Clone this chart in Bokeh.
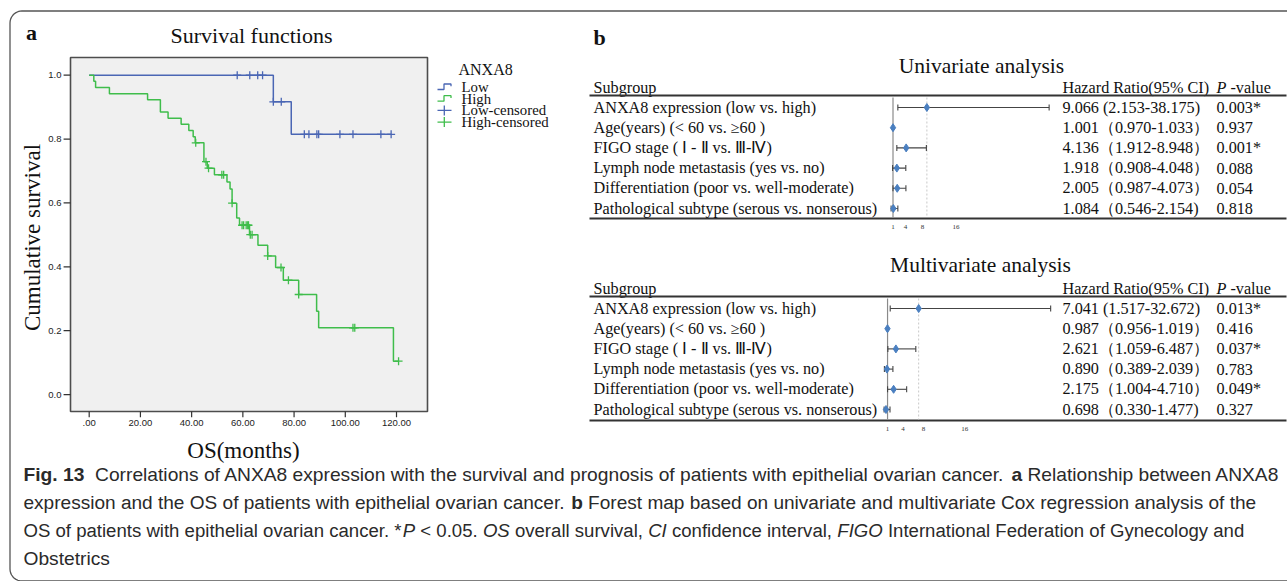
import numpy as np
from bokeh.plotting import figure
from bokeh.models import Range1d
from bokeh.core.properties import value
from bokeh.embed import file_html
from bokeh.resources import INLINE

# ---------------- data ----------------
# Kaplan-Meier raw data (months): deaths and censored observations per group
low_event_months = [71.9, 78.9]
low_censor_months = [57.8, 62.7, 65.8, 67.7, 71.9, 75.0, 84.0, 85.8, 88.9, 89.6,
                     97.9, 103.0, 113.9, 117.9]
high_event_months = [1.8, 2.5, 7.9, 22.8, 27.8, 27.8, 30.8, 35.9, 38.9, 40.6, 41.4,
                     44.8, 44.8, 44.8, 46.1, 48.9, 53.8, 55.0, 55.8, 55.8, 57.6, 57.6,
                     58.7, 62.6, 65.9, 69.7, 72.8, 75.8, 81.8, 88.8, 89.6, 118.8]
high_censor_months = [41.6, 45.6, 46.6, 51.8, 52.5, 55.8, 59.7, 60.3, 61.3, 61.9, 62.2,
                      62.9, 63.6, 69.7, 74.9, 77.8, 81.8, 103.0, 103.7, 120.8]
km_x_ticks = [0, 20, 40, 60, 80, 100, 120]
km_x_tick_labels = [".00", "20.00", "40.00", "60.00", "80.00", "100.00", "120.00"]
km_y_ticks = [0.0, 0.2, 0.4, 0.6, 0.8, 1.0]
km_y_tick_labels = ["0.0", "0.2", "0.4", "0.6", "0.8", "1.0"]
legend_title = "ANXA8"
legend_labels = ["Low", "High", "Low-censored", "High-censored"]

subgroups = ["ANXA8 expression (low vs. high)",
             "Age(years) (< 60 vs. \u226560 )",
             "FIGO stage ( \u2160 - \u2161  vs. \u2162-\u2163)",
             "Lymph node metastasis (yes vs. no)",
             "Differentiation (poor vs. well-moderate)",
             "Pathological subtype (serous vs. nonserous)"]
uni_hr = [9.066, 1.001, 4.136, 1.918, 2.005, 1.084]
uni_lo = [2.153, 0.970, 1.912, 0.908, 0.987, 0.546]
uni_hi = [38.175, 1.033, 8.948, 4.048, 4.073, 2.154]
uni_p = ["0.003*", "0.937", "0.001*", "0.088", "0.054", "0.818"]
multi_hr = [7.041, 0.987, 2.621, 0.890, 2.175, 0.698]
multi_lo = [1.517, 0.956, 1.059, 0.389, 1.004, 0.330]
multi_hi = [32.672, 1.019, 6.487, 2.039, 4.710, 1.477]
multi_p = ["0.013*", "0.416", "0.037*", "0.783", "0.049*", "0.327"]
ci_open = ["  (", "\uff08", "\uff08", "\uff08", "\uff08", "\uff08"]
ci_close = [")", "\uff09", "\uff09", "\uff09", "\uff09", ")"]
forest_ticks = [1, 4, 8, 16]

# ---------------- layout / style ----------------
W, H = 1287, 581
SERIF = value("Liberation Serif")
SANS = value("Liberation Sans")
BLUE = "#4a66b4"
GREEN = "#3fbd4b"
KM_BOX = (70, 427, 57, 411)          # left, right, top, bottom (px)
KM_XLIM = (-7.3, 132.1)
KM_YLIM = (-0.053, 1.0555)
PANELS = [
    dict(name="uni", title="Univariate analysis", hr=uni_hr, lo=uni_lo, hi=uni_hi, p=uni_p,
         title_x=981, title_y=65, header_y=87, rule_top=95, row_y0=107, rule_bot=218,
         tick_y=226, hr_px=(888.3, 1056.3), hr_lim=(0, 40)),
    dict(name="multi", title="Multivariate analysis", hr=multi_hr, lo=multi_lo, hi=multi_hi,
         p=multi_p, title_x=980, title_y=264, header_y=288, rule_top=296, row_y0=308,
         rule_bot=420, tick_y=428, hr_px=(881.9, 1057.0), hr_lim=(0, 34)),
]
ROW_STEP = 20.2
LABEL_X, HR_X, P_X = 593, 1062, 1216
RULE_X = (589, 1286)
ROW_FS = 16.2

ARIAL = {' ': 278, '.': 278, ',': 278, '*': 389, '<': 584, '-': 333, '(': 333, ')': 333,
         'a': 556, 'b': 556, 'c': 500, 'd': 556, 'e': 556, 'f': 278, 'g': 556, 'h': 556,
         'i': 222, 'j': 222, 'k': 500, 'l': 222, 'm': 833, 'n': 556, 'o': 556, 'p': 556,
         'q': 556, 'r': 333, 's': 500, 't': 278, 'u': 556, 'v': 500, 'w': 722, 'x': 500,
         'y': 500, 'z': 500, 'A': 667, 'B': 667, 'C': 722, 'D': 722, 'E': 667, 'F': 611,
         'G': 778, 'H': 722, 'I': 278, 'J': 500, 'K': 667, 'L': 556, 'M': 833, 'N': 722,
         'O': 778, 'P': 667, 'Q': 778, 'R': 722, 'S': 667, 'T': 611, 'U': 722, 'V': 667,
         'W': 944, 'X': 667, 'Y': 667, 'Z': 611}
ARIAL_BOLD = {'i': 278, 'g': 611, 'b': 611, 'F': 611}


def tw(s, size, bold=False):
    tot = 0
    for ch in s:
        if bold and ch in ARIAL_BOLD:
            tot += ARIAL_BOLD[ch]
        else:
            tot += ARIAL.get(ch, 556)
    return tot * size / 1000.0


def xr(px0, px1, v0, v1):
    s = (px1 - px0) / (v1 - v0)
    return Range1d(start=v0 - px0 / s, end=v0 + (W - px0) / s)


def yr(py_bot, py_top, v0, v1):
    s = (py_bot - py_top) / (v1 - v0)
    return Range1d(start=v0 - (H - py_bot) / s, end=v0 + py_bot / s)


def km(events, censors):
    times = sorted(set(events + censors))
    n = len(events) + len(censors)
    s = 1.0
    xs, ys, cx, cy = [0.0], [1.0], [], []
    for t in times:
        d = events.count(t)
        c = censors.count(t)
        if d:
            s *= 1 - d / n
            xs.append(t)
            ys.append(s)
        if c:
            cx += [t] * c
            cy += [s] * c
        n -= d + c
    xs.append(times[-1])
    ys.append(s)
    return xs, ys, cx, cy


p = figure(width=W, height=H, x_range=Range1d(0, W), y_range=Range1d(H, 0),
           output_backend="svg", toolbar_location=None, min_border=0,
           x_axis_location=None, y_axis_location=None, outline_line_color=None,
           background_fill_color="white", border_fill_color="white")
p.grid.visible = False

p.extra_x_ranges = {"km_x": xr(KM_BOX[0], KM_BOX[1], *KM_XLIM)}
p.extra_y_ranges = {"km_y": yr(KM_BOX[3], KM_BOX[2], *KM_YLIM)}
for pan in PANELS:
    p.extra_x_ranges[pan["name"] + "_x"] = xr(*pan["hr_px"], *pan["hr_lim"])

# ---------------- outer rounded border ----------------
r = 12
ang = np.linspace(0, np.pi / 2, 10)
top_corner_x = 9.5 + r - r * np.sin(ang)
top_corner_y = 10.5 + r - r * np.cos(ang)
bot_x = 9.5 + r - r * np.cos(ang)
bot_y = 580.5 - r + r * np.sin(ang)
border_x = [1300] + list(top_corner_x) + list(bot_x) + [1300]
border_y = [10.5] + list(top_corner_y) + list(bot_y) + [580.5]
p.line(border_x, border_y, line_color="#555555", line_width=1.3)

# ---------------- panel a: KM ----------------
p.text([31], [32], text=["a"], text_font=SERIF, text_font_style="bold",
       text_font_size="22px", text_align="center", text_baseline="middle", text_color="#111")
p.text([251], [35], text=["Survival functions"], text_font=SERIF, text_font_size="22px",
       text_align="center", text_baseline="middle", text_color="#111")
p.quad(left=[KM_XLIM[0]], right=[KM_XLIM[1]], bottom=[KM_YLIM[0]], top=[KM_YLIM[1]],
       fill_color="#f0f0f0", line_color="#4d4d4d", line_width=1.6,
       x_range_name="km_x", y_range_name="km_y")

# y ticks
p.segment(x0=[KM_XLIM[0]] * len(km_y_ticks), x1=[KM_XLIM[0] - 2.7] * len(km_y_ticks),
          y0=km_y_ticks, y1=km_y_ticks, line_color="#333", line_width=1.2,
          x_range_name="km_x", y_range_name="km_y")
p.text(x=[KM_XLIM[0] - 3.5] * len(km_y_ticks), y=km_y_ticks, text=km_y_tick_labels,
       text_font=SANS, text_font_size="9.5px", text_align="right", text_baseline="middle",
       text_color="#222", x_range_name="km_x", y_range_name="km_y")
# x ticks
p.segment(x0=km_x_ticks, x1=km_x_ticks, y0=[KM_YLIM[0]] * 7, y1=[KM_YLIM[0] - 0.018] * 7,
          line_color="#333", line_width=1.2, x_range_name="km_x", y_range_name="km_y")
p.text(x=km_x_ticks, y=[KM_YLIM[0] - 0.037] * 7, text=km_x_tick_labels, text_font=SANS,
       text_font_size="9.5px", text_align="center", text_baseline="middle",
       text_color="#222", x_range_name="km_x", y_range_name="km_y")
p.text([32], [237], text=["Cumulative survival"], angle=np.pi / 2, text_font=SERIF,
       text_font_size="23px", text_align="center", text_baseline="middle", text_color="#111")
p.text([243], [450], text=["OS(months)"], text_font=SERIF, text_font_size="23px",
       text_align="center", text_baseline="middle", text_color="#111")

for ev, ce, col in [(low_event_months, low_censor_months, BLUE),
                    (high_event_months, high_censor_months, GREEN)]:
    xs, ys, cx, cy = km(ev, ce)
    p.step(xs, ys, mode="after", line_color=col, line_width=1.5,
           x_range_name="km_x", y_range_name="km_y")
    p.scatter(cx, cy, marker="cross", size=8, line_color=col, line_width=1.3,
              x_range_name="km_x", y_range_name="km_y")

# legend
p.text([458], [69], text=[legend_title], text_font=SERIF, text_font_size="16px",
       text_align="left", text_baseline="middle", text_color="#111")
leg_y = [86.5, 98.2, 109.9, 121.6]
for i, (lab, col) in enumerate(zip(legend_labels, [BLUE, GREEN, BLUE, GREEN])):
    y = leg_y[i]
    if i < 2:
        p.line([437, 443.5, 443.5, 450.5, 450.5], [y + 2.5, y + 2.5, y - 3, y - 3, y - 0.8],
               line_color=col, line_width=1.3)
    else:
        p.segment([437, 443.8], [y, y - 5], [451, 443.8], [y, y + 5], line_color=col,
                  line_width=1.3)
    p.text([461], [y], text=[lab], text_font=SERIF, text_font_size="14.8px",
           text_align="left", text_baseline="middle", text_color="#111")

# ---------------- panel b: forest plots ----------------
p.text([593], [37], text=["b"], text_font=SERIF, text_font_style="bold",
       text_font_size="22px", text_align="left", text_baseline="middle", text_color="#111")
for pan in PANELS:
    rn = pan["name"] + "_x"
    rows = [pan["row_y0"] + ROW_STEP * i for i in range(len(subgroups))]
    p.text([pan["title_x"]], [pan["title_y"]], text=[pan["title"]], text_font=SERIF,
           text_font_size="21.5px", text_align="center", text_baseline="middle",
           text_color="#111")
    hy = pan["header_y"]
    p.text([LABEL_X, HR_X], [hy, hy], text=["Subgroup", "Hazard Ratio(95% CI)"],
           text_font=SERIF, text_font_size=f"{ROW_FS}px", text_align="left",
           text_baseline="middle", text_color="#111")
    p.text([P_X], [hy], text=["P"], text_font=SERIF, text_font_style="italic",
           text_font_size=f"{ROW_FS}px", text_align="left", text_baseline="middle",
           text_color="#111")
    p.text([P_X + 0.86 * ROW_FS], [hy], text=["-value"], text_font=SERIF,
           text_font_size=f"{ROW_FS}px", text_align="left", text_baseline="middle",
           text_color="#111")
    p.segment(x0=[RULE_X[0]] * 2, x1=[RULE_X[1]] * 2, y0=[pan["rule_top"], pan["rule_bot"]],
              y1=[pan["rule_top"], pan["rule_bot"]], line_color="#333", line_width=2)
    # reference lines
    p.segment(x0=[1], x1=[1], y0=[pan["rule_top"] + 2], y1=[pan["rule_bot"] - 1],
              line_color="#8a8a8a", line_width=1.2, x_range_name=rn)
    p.segment(x0=[pan["hr"][0]], x1=[pan["hr"][0]], y0=[pan["rule_top"] + 2],
              y1=[pan["rule_bot"] - 1], line_color="#c8c8c8", line_width=1,
              line_dash="2 2", x_range_name=rn)
    # CI bars
    p.segment(x0=pan["lo"], x1=pan["hi"], y0=rows, y1=rows, line_color="#444",
              line_width=1.1, x_range_name=rn)
    p.segment(x0=pan["lo"], x1=pan["lo"], y0=[y - 3 for y in rows], y1=[y + 3 for y in rows],
              line_color="#444", line_width=1.1, x_range_name=rn)
    p.segment(x0=pan["hi"], x1=pan["hi"], y0=[y - 3 for y in rows], y1=[y + 3 for y in rows],
              line_color="#444", line_width=1.1, x_range_name=rn)
    p.scatter(pan["hr"], rows, marker="diamond", size=8, fill_color="#4a7fc0",
              line_color="#4a7fc0", x_range_name=rn)
    # axis tick labels
    p.text(forest_ticks, [pan["tick_y"]] * len(forest_ticks),
           text=[str(t) for t in forest_ticks], text_font=SERIF, text_font_size="7px",
           text_align="center", text_baseline="middle", text_color="#333", x_range_name=rn)
    # table text
    hr_txt = [f"{h:.3f}{ci_open[i]}{l:.3f}-{u:.3f}{ci_close[i]}"
              for i, (h, l, u) in enumerate(zip(pan["hr"], pan["lo"], pan["hi"]))]
    p.text([LABEL_X] * len(rows), rows, text=subgroups, text_font=SERIF,
           text_font_size=f"{ROW_FS}px", text_align="left", text_baseline="middle",
           text_color="#111")
    p.text([HR_X] * len(rows), rows, text=hr_txt, text_font=SERIF,
           text_font_size=f"{ROW_FS}px", text_align="left", text_baseline="middle",
           text_color="#111")
    p.text([P_X] * len(rows), rows, text=pan["p"], text_font=SERIF,
           text_font_size=f"{ROW_FS}px", text_align="left", text_baseline="middle",
           text_color="#111")

# ---------------- caption ----------------
caption_lines = [
    [("Fig. 13", "bold"), ("  Correlations of ANXA8 expression with the survival and prognosis of "
                           "patients with epithelial ovarian cancer. ", "normal"),
     ("a", "bold"), (" Relationship between ANXA8", "normal")],
    [("expression and the OS of patients with epithelial ovarian cancer. ", "normal"),
     ("b", "bold"), (" Forest map based on univariate and multivariate Cox regression analysis "
                     "of the", "normal")],
    [("OS of patients with epithelial ovarian cancer. *", "normal"), ("P", "italic"),
     (" < 0.05. ", "normal"), ("OS", "italic"), (" overall survival, ", "normal"),
     ("CI", "italic"), (" confidence interval, ", "normal"), ("FIGO", "italic"),
     (" International Federation of Gynecology and", "normal")],
    [("Obstetrics", "normal")],
]
CAP_X0 = 23
cap_right = [1279, 1256, 1244, None]
cap_y = [474, 502, 530, 558]
line_fs = []
for line, right in zip(caption_lines, cap_right):
    if right is None:
        line_fs.append(line_fs[0])
    else:
        em = sum(tw(t, 1000, st == "bold") for t, st in line) / 1000.0
        line_fs.append((right - CAP_X0) / em)
for line, y, fs in zip(caption_lines, cap_y, line_fs):
    x = CAP_X0
    for t, st in line:
        bold = st == "bold"
        lead = len(t) - len(t.lstrip(" "))
        x += tw(" " * lead, fs, bold)
        body = t.lstrip(" ")
        p.text([x], [y], text=[body.rstrip(" ")], text_font=SANS, text_font_style=st,
               text_font_size=f"{fs:.2f}px", text_align="left", text_baseline="middle",
               text_color="#2a2a2a")
        x += tw(body, fs, bold)

open("out.html", "w").write(file_html(p, INLINE, title="ANXA8 survival"))
